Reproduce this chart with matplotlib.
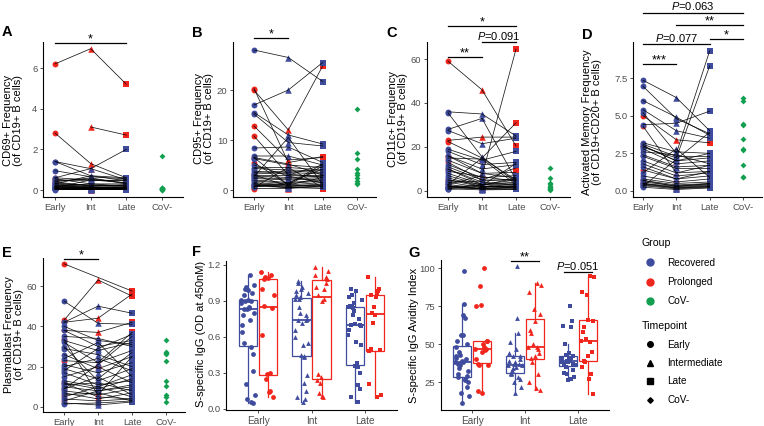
import numpy as np
import matplotlib
matplotlib.use('Agg')
import matplotlib.pyplot as plt
from matplotlib import transforms
from matplotlib.lines import Line2D

plt.rcParams['font.family'] = ['Liberation Sans', 'DejaVu Sans']
plt.rcParams['mathtext.fontset'] = 'custom'
plt.rcParams['mathtext.rm'] = 'Liberation Sans'
plt.rcParams['mathtext.it'] = 'Liberation Sans:italic'

nan = np.nan
BLUE = '#3F4C9E'
RED = '#F0261D'
GREEN = '#12A050'

timepoints = ['Early', 'Int', 'Late', 'CoV-']

# ---------------- Panel A: CD69+ ----------------
A_rec_early = [1.4, 1.4, 0.95, 0.6, 0.5, 0.45, 0.4, 0.35, 0.3, 0.25, 0.2, 0.18, 0.15, 0.12, 0.1, 0.1, 0.08, 0.07, 0.06, 0.05, 0.05, 0.04, 0.03, 0.02, 0.3, 0.2, 0.15, 0.1]
A_rec_int = [1.05, 0.7, 0.65, 0.5, 0.45, 0.55, 0.6, 0.2, 0.25, 0.1, 0.15, 0.3, 0.1, 0.05, 0.08, 0.12, 0.05, 0.04, 0.1, 0.03, 0.06, 0.02, 0.05, 0.03, 0.7, 0.2, 0.08, 0.5]
A_rec_late = [2.0, 0.6, 0.55, 0.45, 0.5, 0.35, 0.3, 0.25, 0.2, 0.15, 0.1, 0.2, 0.08, 0.1, 0.05, 0.06, 0.04, 0.05, 0.03, 0.07, 0.02, 0.05, 0.03, 0.04, 0.45, 0.15, 0.1, 0.35]
A_pro_early = [6.2, 2.8, nan, 0.55, 0.4, 0.3, 0.2, 0.1, 0.05, 0.6]
A_pro_int = [6.95, 1.3, 3.1, 0.3, 0.2, 0.15, 0.1, 0.05, 0.02, 1.05]
A_pro_late = [5.2, 0.6, 2.7, 0.3, 0.25, 0.1, 0.15, 0.05, 0.03, 0.5]
A_cov = [1.65, 0.12, 0.08, 0.05, 0.04, 0.03, 0.02, 0.1, 0.06, 0.01]

# ---------------- Panel B: CD95+ ----------------
B_rec_early = [28.0, 17.0, 15.5, 15.2, 8.4, 6.8, 6.5, 6.3, 4.5, 4.3, 3.5, 3.2, 3.0, 2.8, 2.5, 2.3, 2.0, 1.8, 1.5, 1.3, 1.2, 1.0, 0.8, 0.7, 0.6, 2.7, 3.8, 5.0]
B_rec_int = [26.5, 20.0, 11.0, 9.5, 8.6, 6.8, 1.0, 5.0, 4.5, 4.0, 3.8, 3.5, 3.0, 2.5, 2.2, 2.0, 1.5, 1.3, 1.0, 0.8, 0.7, 0.5, 0.5, 1.2, 1.5, 10.5, 3.2, 2.8]
B_rec_late = [21.7, 25.5, 9.2, 8.8, 5.5, 5.0, 4.8, 4.5, 4.0, 3.8, 3.5, 3.2, 3.0, 2.8, 2.5, 2.2, 2.0, 1.8, 1.5, 1.2, 1.0, 0.8, 0.6, 5.2, 4.2, 1.1, 2.6, 1.4]
B_pro_early = [20.3, 20.0, 12.8, 10.8, 6.5, 5.5, 3.0, 1.0, 0.5, 0.3]
B_pro_int = [5.5, 12.0, 6.0, 3.0, 5.2, 1.0, 0.8, 0.5, 4.5, 0.3]
B_pro_late = [6.7, 24.8, 6.5, 5.0, 3.0, 2.5, 1.0, 0.3, 0.5, 0.8]
B_cov = [16.2, 7.5, 6.2, 4.3, 3.5, 3.0, 2.5, 1.8, 1.5, 1.2]

# ---------------- Panel C: CD11c+ ----------------
C_rec_early = [36, 35.5, 28, 27.5, 19, 18, 16, 14, 12, 11, 10, 8, 7, 6, 5, 4, 3, 3, 2.5, 2, 1.5, 1, 1, 0.8, 4, 9, 2]
C_rec_int = [35, 15.5, 33, 21.5, 14, 12, 10, 8, 6, 5, 4, 3, 2.5, 2, 3, 1.5, 1, 15, 0.8, 1, 2, 0.5, 3, 1.5, 4.5, 6.5, 2.5]
C_rec_late = [25, 4, 5, 24, 18, 13, 12, 6, 7, 5, 3, 4, 6, 2, 3, 1.5, 2, 5, 1, 0.8, 2.5, 0.7, 1.2, 3.5, 5.5, 4.5, 12.5]
C_pro_early = [59, 23, 22.5, 16, 15, 3, 13, 10, 5, 2]
C_pro_int = [46, 24.5, 15, 8, 14.5, 7, 5, 3, 2, 1]
C_pro_late = [20.5, 24.5, 31, 8.5, 3, 64.5, 10.5, 5, 2, 1.5]
C_cov = [10.5, 6, 3.5, 2.5, 1.5, 1.0, 0.5, 2, 3, 0.8]

# ---------------- Panel D: Activated memory ----------------
D_rec_early = [7.35, 6.95, 6.0, 5.4, 5.2, 4.4, 3.2, 3.1, 3.0, 2.9, 2.8, 2.6, 2.4, 2.3, 2.0, 1.8, 1.6, 1.2, 1.0, 0.8, 0.7, 0.6, 0.5, 0.45, 0.4, 0.35, 0.3, 0.25]
D_rec_int = [6.2, 4.8, 4.9, 4.0, 2.5, 4.5, 2.6, 2.3, 2.0, 2.2, 1.8, 2.4, 1.6, 1.5, 1.2, 1.0, 0.8, 2.8, 0.6, 0.5, 0.4, 0.35, 0.3, 0.25, 0.2, 0.15, 2.1, 0.1]
D_rec_late = [4.0, 3.8, 3.7, 3.5, 9.3, 5.3, 2.5, 2.3, 2.2, 8.3, 2.0, 1.8, 1.7, 1.5, 1.3, 1.2, 1.0, 0.9, 0.8, 0.6, 0.5, 0.45, 0.4, 0.35, 0.3, 0.25, 3.9, 0.2]
D_pro_early = [5.0, 4.3, 3.0, 1.4, 0.7, 0.5]
D_pro_int = [3.4, 1.2, 2.0, 0.8, 0.3, 0.2]
D_pro_late = [3.2, 1.7, 2.5, 1.3, 0.5, 0.3]
D_cov = [6.2, 6.0, 4.45, 4.35, 3.45, 2.8, 2.75, 1.75, 0.95, 0.9]

# ---------------- Panel E: Plasmablast ----------------
E_rec_early = [52.5, 42, 40, 38, 35, 33, 32, 29, 26, 24, 21, 20, 19, 17, 15, 13, 12, 11, 10, 9, 8, 7, 5, 4, 2, 1.5, 30, 18]
E_rec_int = [41.5, 50, 33, 30, 34, 28, 22, 26, 19, 32, 17, 24, 14, 11, 20, 10, 9, 12, 8, 15, 6, 4, 10, 3, 1, 2, 13, 29]
E_rec_late = [41, 46.5, 31, 33, 30, 32, 28, 20, 25, 15, 22, 18, 27, 13, 12, 16, 14, 8, 11, 6, 9, 7, 5, 4, 2.5, 3, 19, 36]
E_pro_early = [71, 43, 42, 38, 23, 33.5, 12, 3, 9, 6]
E_pro_int = [nan, 63, 44, 37, 22, 6, 5, 8, 21, 7]
E_pro_late = [57.5, 55, 56, 42, 37, 25, 4, 10, 35, 3]
E_cov = [33, 27.5, 26.5, 23, 13, 10.5, 6, 5, 2.5, 27]

# ---------------- Panel F: S-specific IgG ----------------
F_rec_early = [0.91, 1.12, 0.83, 0.05, 0.99, 0.64, 0.90, 0.21, 1.03, 0.84, 0.55, 0.97, 0.08, 0.88, 0.74, 1.00, 0.32, 0.91, 0.78, 0.52, 1.02, 0.12, 0.85, 0.95, 0.46, 0.83, 0.70, 0.06, 0.90, 0.80]
F_pro_early = [1.14, 0.30, 0.86, 0.10, 1.09, 0.62, 1.12, 0.25, 0.95, 0.14, 1.08, 0.84, 0.29, 1.00, 0.15, 1.10]
F_rec_int = [0.92, 0.06, 1.07, 0.74, 0.45, 0.98, 0.22, 0.85, 0.55, 1.02, 0.10, 0.78, 0.93, 0.60, 0.44, 1.05, 0.28, 0.72, 0.95, 0.08, 0.80, 0.97, 0.53, 0.74, 0.15, 1.00, 0.66, 0.43, 0.92, 0.75]
F_pro_int = [1.18, 0.10, 0.95, 1.10, 0.27, 1.02, 0.92, 0.13, 1.15, 0.90, 0.24, 1.05, 0.22, 1.12, 1.00, 0.29, 1.08, 0.11]
F_rec_late = [0.85, 0.06, 1.00, 0.70, 0.36, 0.93, 0.20, 0.84, 0.53, 0.98, 0.10, 0.75, 0.88, 0.62, 0.38, 0.95, 0.30, 0.71, 0.86, 0.06, 0.78, 0.91, 0.56, 0.70, 0.17, 0.82, 0.66, 0.35, 0.85, 0.69]
F_pro_late = [1.10, 0.10, 0.95, 0.49, 0.78, 0.21, 0.98, 0.72, 0.12, 0.93, 0.50, 1.00, 0.85, 0.48, 0.96, 0.80]

# ---------------- Panel G: Avidity ----------------
G_rec_early = [38, 98, 28, 50, 11, 42, 67, 36, 25, 56, 30, 40, 18, 48, 76, 34, 22, 39, 52, 27, 43, 16, 69, 37, 29, 56, 41, 26, 45, 32, 38]
G_pro_early = [47, 100, 37, 52, 18, 75, 46, 88, 36, 50, 19, 47, 75.5, 40, 48, 36, 52, 45]
G_rec_int = [36, 101, 31, 42, 18, 39, 57, 34, 22, 47, 30, 37, 25, 44, 67, 33, 27, 38, 51, 28, 42, 36, 35, 31, 40, 37]
G_pro_int = [48, 90, 41, 20, 65, 84, 30, 50, 89, 21, 57, 44, 73, 25, 48, 38, 70, 42, 59, 47]
G_rec_late = [39, 75, 36, 42, 26, 40, 61, 35, 28, 44, 37, 65, 30, 41, 39, 50, 33, 38, 62, 27, 43, 36, 40, 31, 37, 39, 38, 41]
G_pro_late = [52, 95, 39, 17, 66, 84, 30, 53, 94, 27, 61, 45, 82, 35, 51, 38, 65, 42, 58]

W, H = 764, 426
fig = plt.figure(figsize=(W / 100, H / 100), dpi=100)


def add_ax(l, t, r, b):
    return fig.add_axes([l / W, 1 - b / H, (r - l) / W, (b - t) / H])


def ylim_px(ax, v0, p0, v1, p1, ptop, pbot):
    s = (p0 - p1) / (v1 - v0)
    ax.set_ylim(v0 - (pbot - p0) / s, v0 + (p0 - ptop) / s)


def xlim_px(ax, t1, tn, l, r, n):
    s = (tn - t1) / (n - 1)
    ax.set_xlim(1 - (t1 - l) / s, n + (r - tn) / s)


def style(ax, yticks, ylabels, xlabels, xsize=6.8):
    for sp in ['top', 'right']:
        ax.spines[sp].set_visible(False)
    for sp in ['left', 'bottom']:
        ax.spines[sp].set_linewidth(0.8)
    ax.tick_params(length=2.5, width=0.6, colors='#333333', labelsize=6.8,
                   labelcolor='#4D4D4D', pad=1.5)
    ax.tick_params(axis='x', labelsize=xsize)
    ax.set_yticks(yticks)
    ax.set_yticklabels(ylabels)
    ax.set_xticks(range(1, len(xlabels) + 1))
    ax.set_xticklabels(xlabels)


def paired(ax, rec, pro, cov):
    markers = ['o', '^', 's']
    sizes = [18, 22, 17]
    for grp, col in ((pro, RED), (rec, BLUE)):
        for i in range(3):
            v = np.array(grp[i], float)
            ax.scatter(np.full(len(v), i + 1), v, marker=markers[i], s=sizes[i],
                       color=col, linewidths=0, zorder=2, clip_on=False)
    c = np.array(cov, float)
    ax.scatter(np.full(len(c), 4), c, marker='D', s=9, color=GREEN,
               linewidths=0, zorder=2, clip_on=False)
    for grp in (rec, pro):
        arr = np.array(grp, float)
        for j in range(arr.shape[1]):
            ok = ~np.isnan(arr[:, j])
            ax.plot(np.arange(1, 4)[ok], arr[ok, j], color='black', lw=0.55,
                    zorder=3, alpha=0.9)


def sig(ax, x1, x2, ypix, label):
    tr = transforms.blended_transform_factory(ax.transData, fig.transFigure)
    y = 1 - ypix / H
    ax.plot([x1, x2], [y, y], color='black', lw=0.9, transform=tr, clip_on=False)
    if label.startswith('*'):
        ax.text((x1 + x2) / 2, y + 1.0 / H, label, transform=tr, ha='center',
                va='baseline', fontsize=9.2, clip_on=False)
    else:
        ax.text((x1 + x2) / 2, y + 0.5 / H, label, transform=tr, ha='center',
                va='bottom', fontsize=8.0, clip_on=False)


def jitter(n, w=0.13):
    return ((np.arange(n) * 0.6180339887) % 1 - 0.5) * 2 * w


def boxpanel(ax, rec, pro):
    markers = ['o', '^', 's']
    for i in range(3):
        for data, col, off in ((rec[i], BLUE, -0.1875), (pro[i], RED, 0.1875)):
            pos = i + 1 + off
            ax.boxplot([data], positions=[pos], widths=0.35, whis=1.5,
                       showfliers=False, patch_artist=True, manage_ticks=False,
                       boxprops=dict(facecolor='none', edgecolor=col, lw=0.9),
                       medianprops=dict(color=col, lw=1.3),
                       whiskerprops=dict(color=col, lw=0.9),
                       capprops=dict(visible=False))
            d = np.array(data, float)
            ax.scatter(pos + jitter(len(d)), d, marker=markers[i], s=12,
                       color=col, linewidths=0, zorder=3, clip_on=False)


def ylab(x, y, text):
    fig.text(x / W, 1 - y / H, text, rotation=90, ha='center', va='center',
             multialignment='center', fontsize=8, linespacing=1.05)


def letter(x, y, t):
    fig.text(x / W, 1 - y / H, t, ha='left', va='center', fontsize=10.5,
             fontweight='bold')


# ---- A ----
ax = add_ax(43, 42, 183, 197)
paired(ax, [A_rec_early, A_rec_int, A_rec_late], [A_pro_early, A_pro_int, A_pro_late], A_cov)
style(ax, [0, 2, 4, 6], ['0', '2', '4', '6'], timepoints)
ylim_px(ax, 0, 190, 6, 68, 42, 197)
xlim_px(ax, 55, 162, 43, 183, 4)
sig(ax, 1, 3, 43, '*')
ylab(13, 120, 'CD69+ Frequency\n(of CD19+ B cells)')
letter(2, 32, 'A')

# ---- B ----
ax = add_ax(233, 42, 376, 197)
paired(ax, [B_rec_early, B_rec_int, B_rec_late], [B_pro_early, B_pro_int, B_pro_late], B_cov)
style(ax, [0, 10, 20], ['0', '10', '20'], timepoints)
ylim_px(ax, 0, 190, 20, 90, 42, 197)
xlim_px(ax, 254, 357, 233, 376, 4)
sig(ax, 1, 2, 38, '*')
ylab(204, 119, 'CD95+ Frequency\n(of CD19+ B cells)')
letter(192, 33, 'B')

# ---- C ----
ax = add_ax(427, 42, 570, 197)
paired(ax, [C_rec_early, C_rec_int, C_rec_late], [C_pro_early, C_pro_int, C_pro_late], C_cov)
style(ax, [0, 20, 40, 60], ['0', '20', '40', '60'], timepoints)
ylim_px(ax, 0, 191, 60, 59, 42, 197)
xlim_px(ax, 448, 550, 427, 570, 4)
sig(ax, 1, 3, 26, '*')
sig(ax, 2, 3, 42, r'$\it{P}$=0.091')
sig(ax, 1, 2, 57, '**')
ylab(398, 119, 'CD11c+ Frequency\n(of CD19+ B cells)')
letter(386, 33, 'C')

# ---- D ----
ax = add_ax(633, 42, 762, 197)
paired(ax, [D_rec_early, D_rec_int, D_rec_late], [D_pro_early, D_pro_int, D_pro_late], D_cov)
style(ax, [0, 2.5, 5, 7.5], ['0.0', '2.5', '5.0', '7.5'], timepoints)
ylim_px(ax, 0, 191, 7.5, 78, 42, 197)
xlim_px(ax, 643, 743, 633, 762, 4)
sig(ax, 1, 4, 13, r'$\it{P}$=0.063')
sig(ax, 2, 4, 25, '**')
sig(ax, 1, 3, 44, r'$\it{P}$=0.077')
sig(ax, 3, 4, 39, '*')
sig(ax, 1, 2, 64, '***')
ylab(592, 122, 'Activated Memory Frequency\n(of CD19+CD20+ B cells)')
letter(582, 35, 'D')

# ---- E ----
ax = add_ax(43, 258, 185, 412)
paired(ax, [E_rec_early, E_rec_int, E_rec_late], [E_pro_early, E_pro_int, E_pro_late], E_cov)
style(ax, [0, 20, 40, 60], ['0', '20', '40', '60'], timepoints)
ylim_px(ax, 0, 407, 60, 286, 258, 412)
xlim_px(ax, 64, 166, 43, 185, 4)
sig(ax, 1, 2, 259, '*')
ylab(14, 335, 'Plasmablast Frequency\n(of CD19+ B cells)')
letter(2, 253, 'E')

# ---- F ----
ax = add_ax(226, 261, 397, 410)
boxpanel(ax, [F_rec_early, F_rec_int, F_rec_late], [F_pro_early, F_pro_int, F_pro_late])
style(ax, [0, 0.3, 0.6, 0.9, 1.2], ['0.0', '0.3', '0.6', '0.9', '1.2'], timepoints[:3], xsize=7.2)
ylim_px(ax, 0, 409, 1.2, 265, 261, 410)
xlim_px(ax, 258, 365, 226, 397, 3)
ylab(201, 334, 'S-specific IgG (OD at 450nM)')
letter(192, 252, 'F')

# ---- G ----
ax = add_ax(441, 260, 609, 410)
boxpanel(ax, [G_rec_early, G_rec_int, G_rec_late], [G_pro_early, G_pro_int, G_pro_late])
style(ax, [25, 50, 75, 100], ['25', '50', '75', '100'], timepoints[:3], xsize=7.2)
ylim_px(ax, 25, 382, 100, 268, 260, 410)
xlim_px(ax, 472, 578, 441, 609, 3)
sig(ax, 2 - 0.26, 2 + 0.26, 261, '**')
sig(ax, 3 - 0.26, 3 + 0.26, 272, r'$\it{P}$=0.051')
ylab(414, 335, 'S-specific IgG Avidity Index')
letter(408, 253, 'G')

# ---- Legends ----
grp_h = [Line2D([], [], ls='none', marker='o', color=c, markersize=5) for c in (BLUE, RED, GREEN)]
leg1 = fig.legend(grp_h, ['Recovered', 'Prolonged', 'CoV-'], title='Group',
                  loc='upper left', bbox_to_anchor=(642 / W, 1 - 238 / H),
                  frameon=False, fontsize=7.2, title_fontsize=7.6, alignment='left',
                  handletextpad=0.9, labelspacing=0.95, handlelength=1.6, borderpad=0,
                  borderaxespad=0)
tp_h = [Line2D([], [], ls='none', marker=m, color='black', markersize=s)
        for m, s in (('o', 4), ('^', 4.5), ('s', 3.8), ('D', 2.8))]
leg2 = fig.legend(tp_h, ['Early', 'Intermediate', 'Late', 'CoV-'], title='Timepoint',
                  loc='upper left', bbox_to_anchor=(642 / W, 1 - 321 / H),
                  frameon=False, fontsize=7.2, title_fontsize=7.6, alignment='left',
                  handletextpad=0.9, labelspacing=0.85, handlelength=1.6, borderpad=0,
                  borderaxespad=0)

fig.savefig('out.png', dpi=100)
